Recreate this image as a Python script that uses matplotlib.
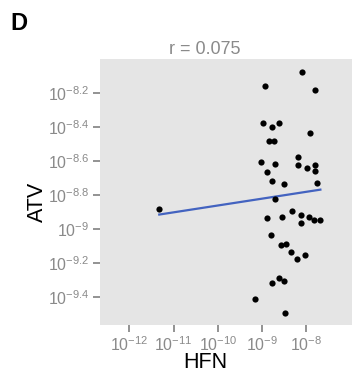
import matplotlib.pyplot as plt
import numpy as np

plt.rcParams['font.family'] = ['Liberation Sans', 'DejaVu Sans']
plt.rcParams['mathtext.fontset'] = 'custom'
plt.rcParams['mathtext.rm'] = 'Liberation Sans'
plt.rcParams['mathtext.it'] = 'Liberation Sans'
plt.rcParams['mathtext.default'] = 'regular'

# log10 values
hfn_log = [-8.104, -8.927, -7.803, -8.979, -8.610, -8.768, -7.910, -8.836, -8.737, -9.017,
           -8.714, -8.194, -8.194, -7.977, -7.803, -7.803, -8.888, -8.775, -8.511, -7.765,
           -8.714, -8.888, -8.549, -8.323, -8.113, -8.127, -7.939, -7.819, -7.684, -8.798,
           -11.322, -8.572, -8.466, -8.353, -8.210, -8.036, -8.624, -8.768, -8.497, -9.153,
           -8.481]
atv_log = [-8.075, -8.157, -8.181, -8.378, -8.378, -8.398, -8.434, -8.481, -8.481, -8.602,
           -8.616, -8.578, -8.624, -8.639, -8.625, -8.657, -8.663, -8.716, -8.734, -8.728,
           -8.822, -8.931, -8.925, -8.892, -8.914, -8.963, -8.928, -8.945, -8.945, -9.031,
           -8.881, -9.092, -9.086, -9.134, -9.175, -9.151, -9.286, -9.316, -9.304, -9.410,
           -9.490]

x_ticks = [-12, -11, -10, -9, -8]
y_ticks = [-8.2, -8.4, -8.6, -8.8, -9.0, -9.2, -9.4]
y_tick_labels = ['-8.2', '-8.4', '-8.6', '-8.8', '-9', '-9.2', '-9.4']

grey = '#8a8a8a'

fig = plt.figure(figsize=(3.52, 3.78), dpi=100)
ax = fig.add_axes([100 / 352, 53.5 / 378, 252 / 352, 265.5 / 378])
ax.set_facecolor('#E5E5E5')

hx = np.array(hfn_log)
ay = np.array(atv_log)
ax.scatter(10 ** hx, 10 ** ay, s=20, color='black', linewidths=0, zorder=3)

# linear fit in log space
slope, icpt = np.polyfit(hx, ay, 1)
xs = np.linspace(hx.min(), hx.max(), 50)
ax.plot(10 ** xs, 10 ** (slope * xs + icpt), color='#4363c0', lw=1.6, zorder=2)

ax.set_xscale('log')
ax.set_yscale('log')
ax.set_xlim(10 ** -12.66, 10 ** -6.97)
ax.set_ylim(10 ** -9.559, 10 ** -8.0)

ax.set_xticks([10.0 ** t for t in x_ticks])
ax.set_xticklabels(['$10^{%d}$' % t for t in x_ticks])
ax.set_yticks([10.0 ** t for t in y_ticks])
ax.set_yticklabels(['$10^{%s}$' % s for s in y_tick_labels])
ax.minorticks_off()

ax.tick_params(axis='both', colors=grey, labelcolor=grey, labelsize=11.5,
               length=5, width=1.3, pad=2.5)
for s in ax.spines.values():
    s.set_visible(False)

fig.text(205 / 352, 1 - 49 / 378, 'r = 0.075', color=grey, fontsize=13,
         ha='center', va='center')
fig.text(205 / 352, 1 - 363 / 378, 'HFN', color='black', fontsize=15.5,
         ha='center', va='center')
fig.text(37 / 352, 1 - 202 / 378, 'ATV', color='black', fontsize=15.5,
         ha='center', va='center', rotation=90)
fig.text(10 / 352, 1 - 24 / 378, 'D', color='black', fontsize=17,
         fontweight='bold', ha='left', va='center')

fig.savefig('out.png', dpi=100)
